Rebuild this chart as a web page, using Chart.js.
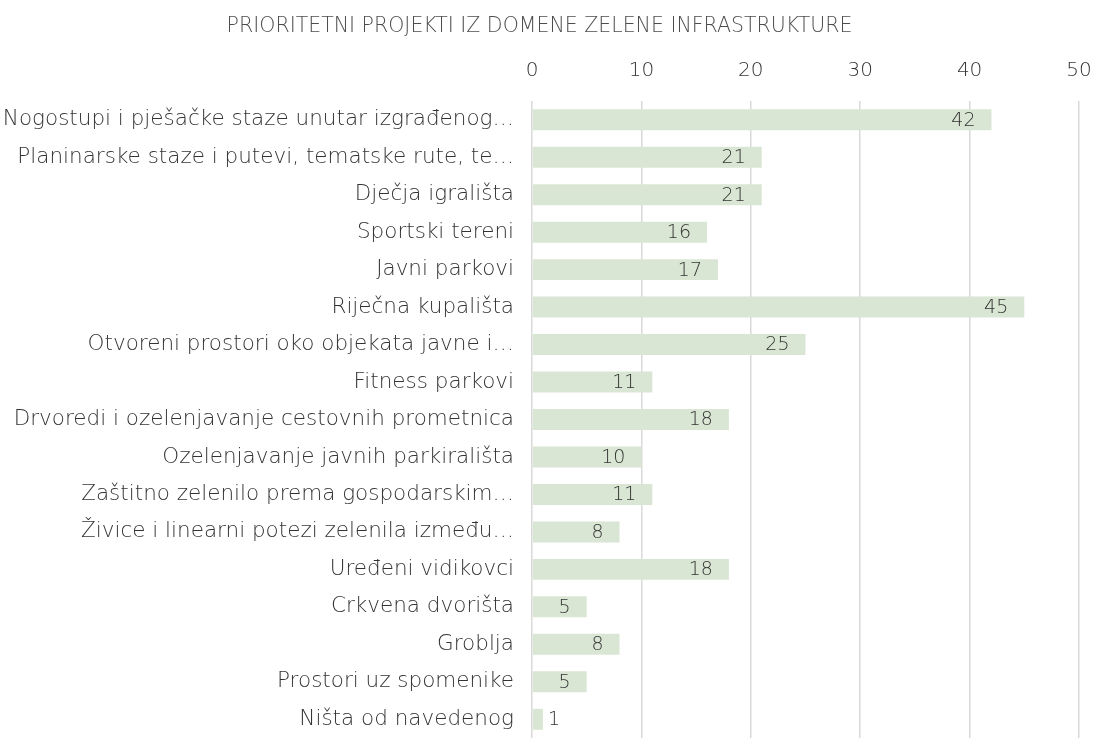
<!DOCTYPE html>
<html lang="hr">
<head>
    <meta charset="UTF-8">
    <title>Prioritetni projekti</title>
    <style>
        html, body { margin: 0; padding: 0; background: #fff; overflow: hidden; }
        #wrap { width: 1097px; height: 738px; }
    </style>
</head>
<body>
    <div id="wrap">
        <canvas id="mychart" width="1097" height="738"></canvas>
    </div>
    <script src="https://cdn.jsdelivr.net/npm/chart.js"></script>
    <script>
        const chartTitle = 'PRIORITETNI PROJEKTI IZ DOMENE ZELENE INFRASTRUKTURE';
        const categories = [
            'Nogostupi i pješačke staze unutar izgrađenog…',
            'Planinarske staze i putevi, tematske rute, te…',
            'Dječja igrališta',
            'Sportski tereni',
            'Javni parkovi',
            'Riječna kupališta',
            'Otvoreni prostori oko objekata javne i…',
            'Fitness parkovi',
            'Drvoredi i ozelenjavanje cestovnih prometnica',
            'Ozelenjavanje javnih parkirališta',
            'Zaštitno zelenilo prema gospodarskim…',
            'Živice i linearni potezi zelenila između…',
            'Uređeni vidikovci',
            'Crkvena dvorišta',
            'Groblja',
            'Prostori uz spomenike',
            'Ništa od navedenog'
        ];
        const counts = [42, 21, 21, 16, 17, 45, 25, 11, 18, 10, 11, 8, 18, 5, 8, 5, 1];
        const xTicks = [0, 10, 20, 30, 40, 50];

        const fontFamily = '"DejaVu Sans", sans-serif';
        const textColor = '#333333';

        // value labels near the end of each bar
        const valueLabels = {
            id: 'valueLabels',
            afterDatasetsDraw(chart) {
                const ctx = chart.ctx;
                const meta = chart.getDatasetMeta(0);
                ctx.save();
                ctx.font = '200 19px ' + fontFamily;
                ctx.fillStyle = textColor;
                ctx.textBaseline = 'middle';
                meta.data.forEach((bar, i) => {
                    const txt = String(counts[i]);
                    const w = ctx.measureText(txt).width;
                    const len = bar.x - bar.base;
                    if (w + 24 > len) {
                        ctx.textAlign = 'left';
                        ctx.fillText(txt, bar.x + 5, bar.y + 1);
                    } else {
                        ctx.textAlign = 'right';
                        ctx.fillText(txt, bar.x - 16, bar.y + 1);
                    }
                });
                ctx.restore();
            }
        };

        new Chart(document.getElementById('mychart'), {
            type: 'bar',
            data: {
                labels: categories,
                datasets: [{
                    data: counts,
                    backgroundColor: '#dae6d4',
                    borderWidth: 0,
                    barPercentage: 0.56,
                    categoryPercentage: 1.0
                }]
            },
            options: {
                indexAxis: 'y',
                responsive: false,
                animation: false,
                layout: { padding: { left: 0, right: 18, top: 0, bottom: 0 } },
                plugins: {
                    legend: { display: false },
                    tooltip: { enabled: false },
                    title: {
                        display: true,
                        text: chartTitle,
                        color: '#4d4d4d',
                        font: { family: fontFamily, size: 20.5, weight: '200' },
                        padding: { top: 14, bottom: 0, left: 16 }
                    }
                },
                scales: {
                    x: {
                        position: 'top',
                        min: 0,
                        max: 50,
                        afterBuildTicks(scale) {
                            scale.ticks = xTicks.map(v => ({ value: v }));
                        },
                        afterFit(scale) {
                            scale.height = 101 - 14 - 24.6;
                            scale.paddingLeft = 0;
                            scale.paddingRight = 0;
                        },
                        grid: {
                            color: '#d9d9d9',
                            lineWidth: 1.5,
                            drawTicks: false
                        },
                        border: { display: false },
                        ticks: {
                            color: textColor,
                            padding: 18,
                            font: { family: fontFamily, size: 20, weight: '200' }
                        }
                    },
                    y: {
                        afterFit(scale) {
                            scale.width = 532;
                            scale.paddingTop = 0;
                            scale.paddingBottom = 0;
                        },
                        grid: { display: false },
                        border: { display: false },
                        ticks: {
                            color: textColor,
                            padding: 10,
                            autoSkip: false,
                            font: { family: fontFamily, size: 21.5, weight: '200' }
                        }
                    }
                }
            },
            plugins: [valueLabels]
        });
    </script>
</body>
</html>
